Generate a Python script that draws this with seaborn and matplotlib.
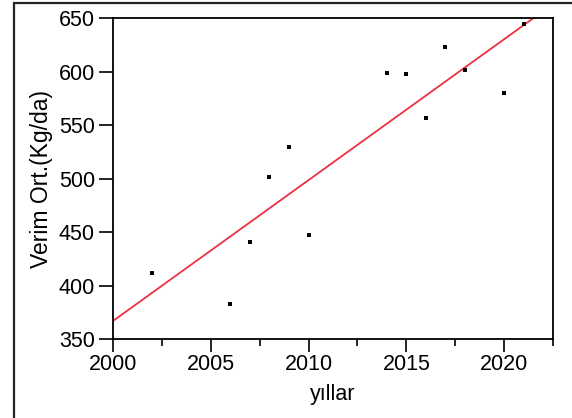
import matplotlib
matplotlib.use("Agg")
import matplotlib.pyplot as plt
from matplotlib.patches import Rectangle
from matplotlib.ticker import MultipleLocator
import seaborn as sns
import pandas as pd

years = [2002, 2006, 2007, 2008, 2009, 2010, 2014, 2015, 2016, 2017, 2018, 2020, 2021]
yield_avg = [412, 383, 441, 501, 529, 447, 599, 598, 557, 623, 601, 580, 644]

df = pd.DataFrame({'yillar': years, 'verim': yield_avg})

sns.set_style("ticks")
plt.rcParams['font.family'] = ['Liberation Sans', 'DejaVu Sans']
plt.rcParams['text.color'] = 'black'
plt.rcParams['axes.labelcolor'] = 'black'

fig = plt.figure(figsize=(5.72, 4.18), dpi=100)
ax = fig.add_axes([113 / 572, 79 / 418, 440 / 572, 321 / 418])
ax.set_xlim(2000, 2022.5)
ax.set_ylim(350, 650)

sns.scatterplot(data=df, x='yillar', y='verim', ax=ax, marker='s', s=7,
                color='black', edgecolor='black', linewidth=0, zorder=3)
sns.regplot(data=df, x='yillar', y='verim', ax=ax, scatter=False, ci=None,
            truncate=False, line_kws={'color': '#ee3040', 'linewidth': 1.3})
ax.set_xlim(2000, 2022.5)
ax.set_ylim(350, 650)

ax.set_xlabel('yıllar', fontsize=15.5, labelpad=6)
ax.set_ylabel('Verim Ort.(Kg/da)', fontsize=16.5, labelpad=4)
ax.xaxis.set_major_locator(MultipleLocator(5))
ax.xaxis.set_minor_locator(MultipleLocator(2.5))
ax.yaxis.set_major_locator(MultipleLocator(50))
ax.tick_params(axis='both', which='major', labelsize=15.5, direction='out',
               width=1.2, color='black', labelcolor='black')
ax.tick_params(axis='x', which='major', length=9, pad=2)
ax.tick_params(axis='y', which='major', length=10, pad=3)
ax.tick_params(axis='x', which='minor', length=5, width=1.2, color='black')
ax.tick_params(top=False, right=False)
for side in ['left', 'right', 'top', 'bottom']:
    ax.spines[side].set_visible(True)
    ax.spines[side].set_linewidth(1.3)
    ax.spines[side].set_color('black')

# outer frame of the original figure
fig.add_artist(Rectangle((14 / 572, -0.1), 1.2, (418 - 3) / 418 + 0.1,
                         transform=fig.transFigure, fill=False,
                         edgecolor='#222222', linewidth=1.6))

fig.savefig('out.png', dpi=100)
